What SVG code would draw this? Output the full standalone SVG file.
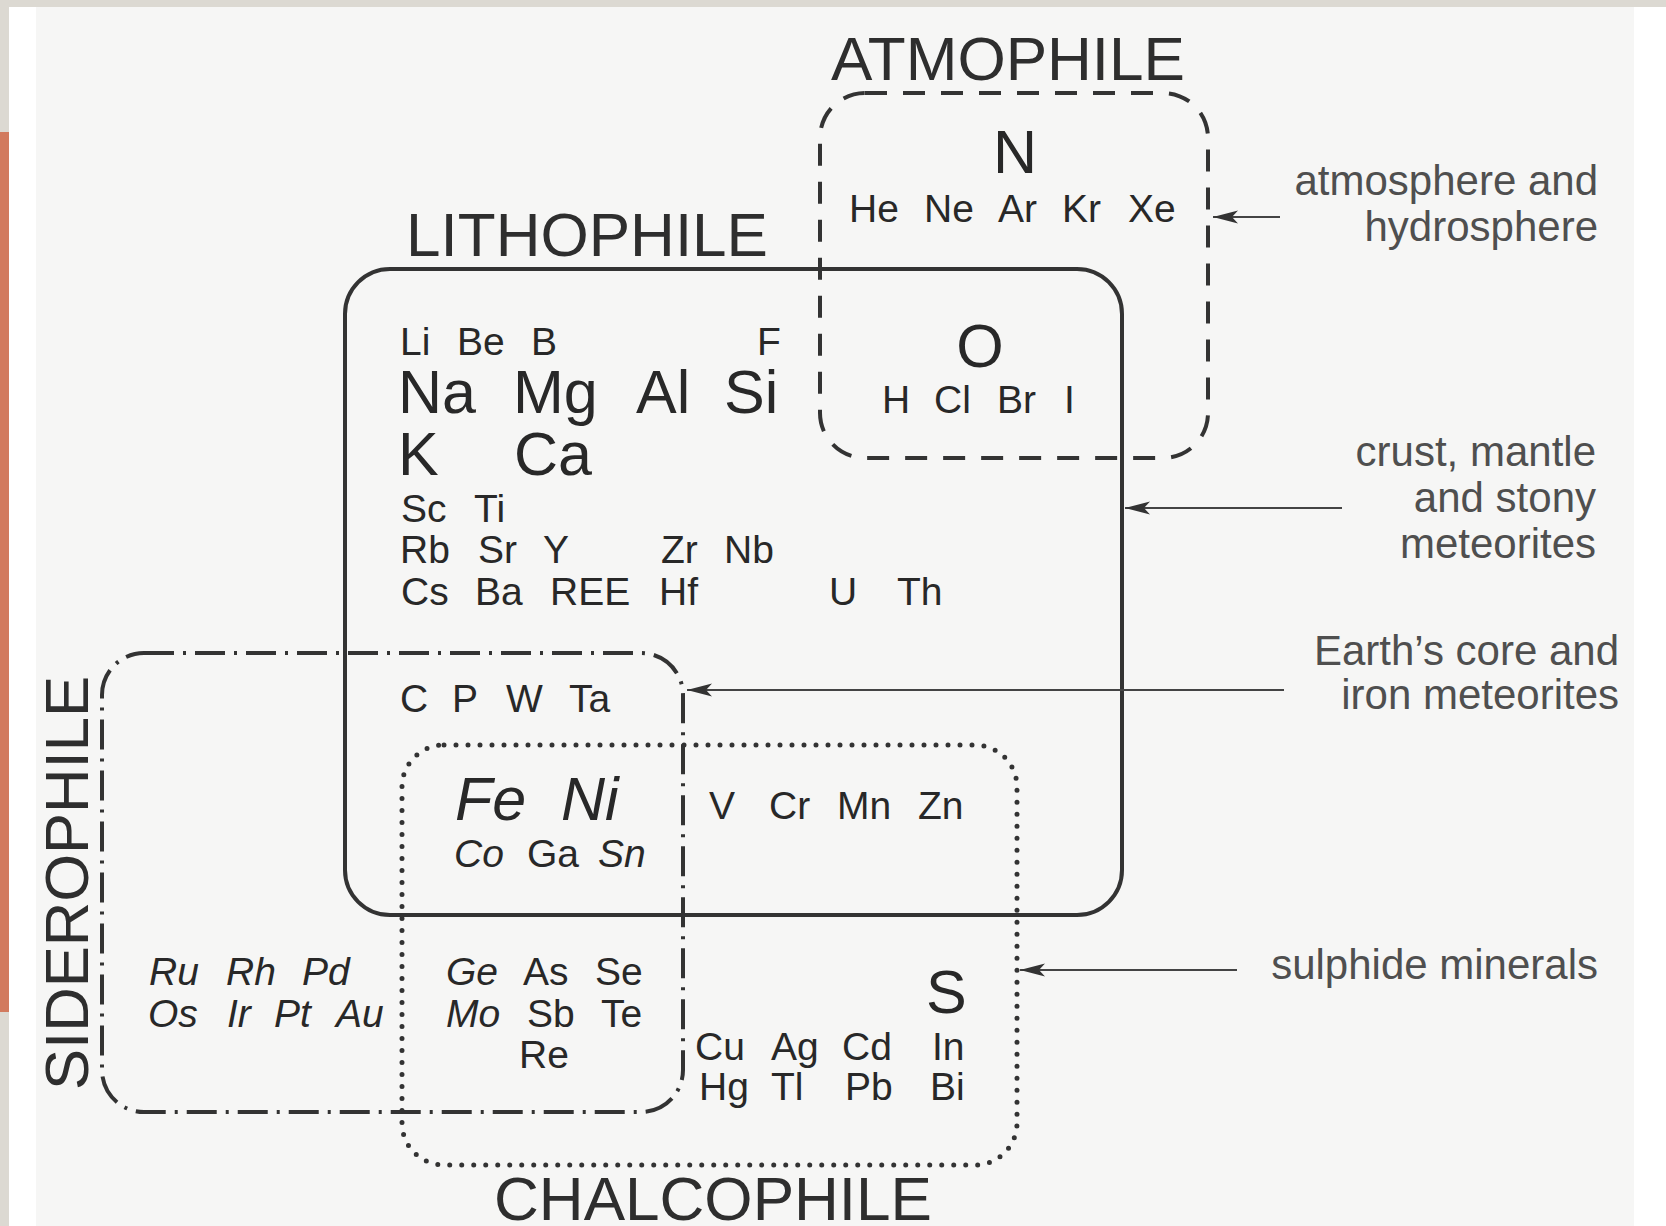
<svg xmlns="http://www.w3.org/2000/svg" width="1666" height="1226" viewBox="0 0 1666 1226">
<style>
.t{font-family:"Liberation Sans",Arial,sans-serif;fill:#282828}
.s{font-size:39px}
.L{font-size:61px}
.i{font-style:italic}
.h{font-size:61px;fill:#2e2e2e}
.lab{font-family:"Liberation Sans",Arial,sans-serif;font-size:42px;fill:#4f4f4f;text-anchor:end}
.box{fill:none;stroke:#333;stroke-width:4}
.dash{stroke-dasharray:22 16}
.dd{stroke-dasharray:30 9 3 9}
.dot{stroke-width:5;stroke-dasharray:0 12;stroke-linecap:round}
.con{stroke:#444;stroke-width:2;fill:none}
</style>
<defs>
<marker id="ah" markerUnits="userSpaceOnUse" markerWidth="28" markerHeight="16" refX="25" refY="8" orient="auto">
<path d="M0,1.5 L25,8 L0,14.5 L6,8 Z" fill="#333"/>
</marker>
</defs>
<!-- page background -->
<rect x="0" y="0" width="1666" height="1226" fill="#ffffff"/>
<rect x="36" y="7" width="1598" height="1219" fill="#f6f6f5"/>
<rect x="0" y="0" width="1666" height="7" fill="#dcd9d2"/>
<rect x="0" y="0" width="9" height="1226" fill="#dcd9d2"/>
<rect x="0" y="132" width="9" height="880" fill="#d27a5e"/>

<g id="lithophile">
<rect class="box" x="345" y="269" width="777" height="646" rx="45" ry="45"/>
<text class="t h" x="406" y="256" textLength="362" lengthAdjust="spacingAndGlyphs">LITHOPHILE</text>
</g>
<g id="atmophile">
<rect class="box dash" x="820" y="93" width="388" height="365" rx="45" ry="45"/>
<text class="t h" x="831" y="80" textLength="354" lengthAdjust="spacingAndGlyphs">ATMOPHILE</text>
</g>
<g id="siderophile">
<rect class="box dd" x="102" y="653" width="581" height="459" rx="42" ry="42"/>
<text class="t h" transform="translate(88,1090) rotate(-90)" textLength="414" lengthAdjust="spacingAndGlyphs">SIDEROPHILE</text>
</g>
<g id="chalcophile">
<rect class="box dot" x="402" y="745" width="615" height="420" rx="42" ry="42"/>
<text class="t h" x="494" y="1220" textLength="438" lengthAdjust="spacingAndGlyphs">CHALCOPHILE</text>
</g>

<g id="atmophile-elements" class="t">
<text class="L" x="1015" y="173" text-anchor="middle" font-size="60">N</text>
<text class="s" y="222"><tspan x="849">He</tspan><tspan x="924">Ne</tspan><tspan x="998">Ar</tspan><tspan x="1062">Kr</tspan><tspan x="1128">Xe</tspan></text>
<text class="L" x="980" y="367" text-anchor="middle">O</text>
<text class="s" y="413"><tspan x="882">H</tspan><tspan x="934">Cl</tspan><tspan x="997">Br</tspan><tspan x="1064">I</tspan></text>
</g>

<g id="lithophile-elements" class="t">
<text class="s" y="355"><tspan x="400">Li</tspan><tspan x="457">Be</tspan><tspan x="531">B</tspan><tspan x="757">F</tspan></text>
<text class="L" y="413"><tspan x="398">Na</tspan><tspan x="513">Mg</tspan><tspan x="636">Al</tspan><tspan x="724">Si</tspan></text>
<text class="L" y="475"><tspan x="398">K</tspan><tspan x="514">Ca</tspan></text>
<text class="s" y="522"><tspan x="401">Sc</tspan><tspan x="474">Ti</tspan></text>
<text class="s" y="563"><tspan x="400">Rb</tspan><tspan x="478">Sr</tspan><tspan x="543">Y</tspan><tspan x="661">Zr</tspan><tspan x="724">Nb</tspan></text>
<text class="s" y="605"><tspan x="401">Cs</tspan><tspan x="475">Ba</tspan><tspan x="550">REE</tspan><tspan x="659">Hf</tspan><tspan x="829">U</tspan><tspan x="897">Th</tspan></text>
</g>

<g id="siderophile-elements" class="t">
<text class="s" y="712"><tspan x="400">C</tspan><tspan x="452">P</tspan><tspan x="506">W</tspan><tspan x="569">Ta</tspan></text>
<text class="L i" y="820" font-size="60"><tspan x="455">Fe</tspan><tspan x="561">Ni</tspan></text>
<text class="s" y="867"><tspan class="i" x="454">Co</tspan><tspan x="527">Ga</tspan><tspan class="i" x="598">Sn</tspan></text>
<text class="s i" y="985"><tspan x="149">Ru</tspan><tspan x="226">Rh</tspan><tspan x="302">Pd</tspan></text>
<text class="s i" y="1027"><tspan x="148">Os</tspan><tspan x="227">Ir</tspan><tspan x="274">Pt</tspan><tspan x="336">Au</tspan></text>
</g>

<g id="chalcophile-elements" class="t">
<text class="s" y="985"><tspan class="i" x="446">Ge</tspan><tspan x="523">As</tspan><tspan x="595">Se</tspan></text>
<text class="s" y="1027"><tspan class="i" x="446">Mo</tspan><tspan x="527">Sb</tspan><tspan x="601">Te</tspan></text>
<text class="s" x="519" y="1068">Re</text>
<text class="s" y="819"><tspan x="709">V</tspan><tspan x="769">Cr</tspan><tspan x="837">Mn</tspan><tspan x="918">Zn</tspan></text>
<text class="L" x="926" y="1013" font-size="60">S</text>
<text class="s" y="1060"><tspan x="695">Cu</tspan><tspan x="771">Ag</tspan><tspan x="842">Cd</tspan><tspan x="932">In</tspan></text>
<text class="s" y="1100"><tspan x="699">Hg</tspan><tspan x="771">Tl</tspan><tspan x="845">Pb</tspan><tspan x="930">Bi</tspan></text>
</g>

<g id="connectors">
<line class="con" x1="1280" y1="217" x2="1213" y2="217" marker-end="url(#ah)"/>
<line class="con" x1="1342" y1="508" x2="1125" y2="508" marker-end="url(#ah)"/>
<line class="con" x1="1284" y1="690" x2="687" y2="690" marker-end="url(#ah)"/>
<line class="con" x1="1237" y1="970" x2="1020" y2="970" marker-end="url(#ah)"/>
</g>

<g id="labels">
<text class="lab" x="1598" y="195">atmosphere and</text>
<text class="lab" x="1598" y="241">hydrosphere</text>
<text class="lab" x="1596" y="466">crust, mantle</text>
<text class="lab" x="1596" y="512">and stony</text>
<text class="lab" x="1596" y="558">meteorites</text>
<text class="lab" x="1619" y="665">Earth’s core and</text>
<text class="lab" x="1619" y="709">iron meteorites</text>
<text class="lab" x="1598" y="979">sulphide minerals</text>
</g>
</svg>
